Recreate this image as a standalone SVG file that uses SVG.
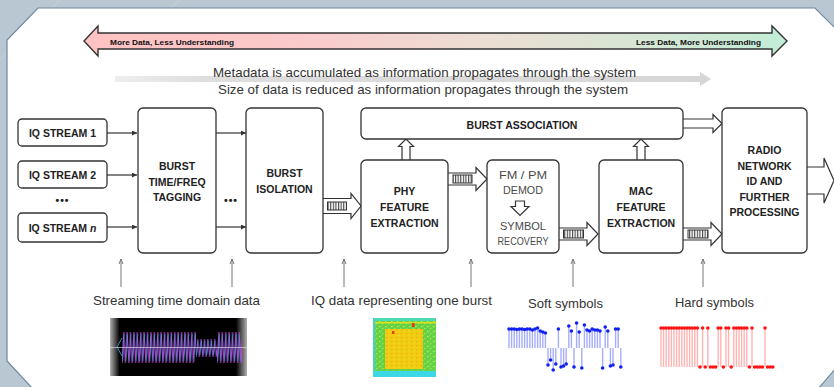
<svg xmlns="http://www.w3.org/2000/svg" width="834" height="387" viewBox="0 0 834 387">
  <defs>
    <style>
      .box { fill: #ffffff; stroke: #333333; stroke-width: 1.3; }
      .lbl { font-family: "Liberation Sans", Arial, sans-serif; font-weight: bold; font-size: 10.5px; fill: #222222; text-anchor: middle; }
      .soft { font-family: "Liberation Sans", Arial, sans-serif; font-size: 11px; fill: #4a4a4a; text-anchor: middle; }
      .cap { font-family: "Liberation Sans", Arial, sans-serif; font-size: 13px; fill: #333333; text-anchor: middle; }
      .tag { font-family: "Liberation Sans", Arial, sans-serif; font-weight: bold; font-size: 8px; fill: #111111; }
      .thin { stroke: #333333; stroke-width: 1.2; fill: none; marker-end: url(#tri); }
      .note { stroke: #777777; stroke-width: 1; fill: none; marker-end: url(#tri-gray); }
      .hollow { fill: #ffffff; stroke: #333333; stroke-width: 1.2; stroke-linejoin: miter; }
      .film { fill: url(#film); stroke: #333333; stroke-width: 1; }
      .sstem { stroke: #a6aefc; stroke-width: 1.4; }
      .sdot { fill: #1020f0; }
      .hstem { stroke: #ffb4b4; stroke-width: 1.4; }
      .hdot { fill: #ff1414; }
    </style>
    <marker id="tri" viewBox="0 0 10 10" refX="10" refY="5" markerWidth="5" markerHeight="5" orient="auto" markerUnits="userSpaceOnUse">
      <path d="M0,0 L10,5 L0,10 Z" fill="#333333"/>
    </marker>
    <marker id="tri-gray" viewBox="0 0 10 10" refX="10" refY="5" markerWidth="5" markerHeight="6" orient="auto" markerUnits="userSpaceOnUse">
      <path d="M0,1 L10,5 L0,9" fill="none" stroke="#777777" stroke-width="2"/>
    </marker>
    <linearGradient id="understanding" x1="84" y1="0" x2="787" y2="0" gradientUnits="userSpaceOnUse">
      <stop offset="0" stop-color="#ffc2c2"/>
      <stop offset="0.3" stop-color="#fbcaca"/>
      <stop offset="0.58" stop-color="#ebdfd3"/>
      <stop offset="1" stop-color="#c2edd6"/>
    </linearGradient>
    <linearGradient id="flow" x1="115" y1="0" x2="710" y2="0" gradientUnits="userSpaceOnUse">
      <stop offset="0" stop-color="#eeeeee"/>
      <stop offset="0.15" stop-color="#dedede"/>
      <stop offset="1" stop-color="#d6d6d6"/>
    </linearGradient>
    <linearGradient id="scope" x1="0" y1="0" x2="1" y2="0">
      <stop offset="0" stop-color="#b0b0b0"/>
      <stop offset="0.07" stop-color="#000000"/>
      <stop offset="0.92" stop-color="#000000"/>
      <stop offset="1" stop-color="#b0b0b0"/>
    </linearGradient>
    <pattern id="film" width="2.6" height="10" patternUnits="userSpaceOnUse">
      <rect width="2.6" height="10" fill="#ffffff"/>
      <line x1="0.6" y1="0" x2="0.6" y2="10" stroke="#333333" stroke-width="1"/>
    </pattern>
    <pattern id="waveP" x="122" y="331" width="3.4" height="34" patternUnits="userSpaceOnUse">
      <polyline points="0,32 1.7,1 3.4,32" fill="none" stroke="#b444d8" stroke-width="1"/>
      <polyline points="0.6,30 2.3,3" fill="none" stroke="#3a9cc4" stroke-width="0.8"/>
    </pattern>
    <pattern id="waveS" x="196" y="337" width="3.4" height="22" patternUnits="userSpaceOnUse">
      <polyline points="0,20 1.7,2 3.4,20" fill="none" stroke="#9a4ad0" stroke-width="1"/>
      <polyline points="0.6,18 2.3,4" fill="none" stroke="#3a9cc4" stroke-width="0.8"/>
    </pattern>
    <pattern id="speckle" width="6" height="5" patternUnits="userSpaceOnUse">
      <rect width="6" height="5" fill="#62d24a"/>
      <rect x="1" y="1" width="1.5" height="1.2" fill="#c6ea3a"/>
      <rect x="4" y="3" width="1.5" height="1.2" fill="#a8e23e"/>
      <rect x="3" y="0" width="1" height="1" fill="#8ede40"/>
    </pattern>
    <pattern id="hot" width="5" height="4" patternUnits="userSpaceOnUse">
      <rect width="5" height="4" fill="#f2cc10"/>
      <rect x="1" y="1" width="1.4" height="1.2" fill="#f2a818"/>
      <rect x="3.4" y="2.6" width="1.2" height="1" fill="#e6e428"/>
    </pattern>
  </defs>

  <!-- backdrop and chamfered panel -->
  <rect width="834" height="387" fill="#b8c7d1"/>
  <path d="M0,60 L60,0 M180,0 L90,70 M760,387 L834,330" stroke="#c6d3db" stroke-width="1" fill="none"/>
  <polygon points="38,8 815,8 836,29 836,368 818,389 33,389 7,361 7,40" fill="#ffffff" stroke="#6e87a0" stroke-width="1.2"/>

  <!-- data / understanding scale -->
  <g id="scale">
    <path d="M84,41 L98,26 L98,33 L772,33 L772,26 L787,41 L772,56 L772,49 L98,49 L98,56 Z" fill="url(#understanding)" stroke="#333333" stroke-width="1.4" stroke-linejoin="miter"/>
    <text class="tag" x="110" y="44.5" textLength="124" lengthAdjust="spacingAndGlyphs">More Data, Less Understanding</text>
    <text class="tag" x="636" y="44.5" textLength="125" lengthAdjust="spacingAndGlyphs">Less Data, More Understanding</text>
  </g>

  <!-- propagation note -->
  <g id="propagation">
    <path d="M115,76 L700,76 L700,72 L711,79 L700,86 L700,82 L115,82 Z" fill="url(#flow)"/>
    <text class="cap" x="424.5" y="76.5" textLength="423" lengthAdjust="spacingAndGlyphs">Metadata is accumulated as information propagates through the system</text>
    <text class="cap" x="423" y="93.5" textLength="410" lengthAdjust="spacingAndGlyphs">Size of data is reduced as information propagates through the system</text>
  </g>

  <!-- connectors -->
  <g id="connectors">
    <line class="thin" x1="107" y1="133" x2="137" y2="133"/>
    <line class="thin" x1="107" y1="175" x2="137" y2="175"/>
    <line class="thin" x1="107" y1="227" x2="137" y2="227"/>
    <line class="thin" x1="216" y1="133" x2="246" y2="133"/>
    <line class="thin" x1="216" y1="227" x2="246" y2="227"/>

    <!-- burst isolation to PHY -->
    <path class="hollow" d="M323,198.5 L351,198.5 L351,193.5 L361,206 L351,218.5 L351,213.5 L323,213.5"/>
    <rect class="film" x="327.5" y="202" width="19" height="8"/>
    <!-- PHY to demod -->
    <path class="hollow" d="M448,173 L476,173 L476,167.5 L487,179 L476,190.5 L476,185 L448,185"/>
    <rect class="film" x="453" y="175" width="19" height="8"/>
    <!-- demod to MAC -->
    <path class="hollow" d="M559,228 L587,228 L587,222.5 L598,234 L587,245.5 L587,240 L559,240"/>
    <rect class="film" x="563.5" y="230" width="20" height="8"/>
    <!-- MAC to radio network -->
    <path class="hollow" d="M683,228 L711,228 L711,222.5 L722,234 L711,245.5 L711,240 L683,240"/>
    <rect class="film" x="688" y="230" width="20" height="8"/>

    <!-- feature extraction up to burst association -->
    <path class="hollow" d="M402,160 L402,146.5 L398.5,146.5 L406,139 L413.5,146.5 L410,146.5 L410,160"/>
    <path class="hollow" d="M637,160 L637,146.5 L633.5,146.5 L641,139 L648.5,146.5 L645,146.5 L645,160"/>
    <!-- burst association to radio network -->
    <path class="hollow" d="M683,119 L713,119 L713,114.5 L722,123.5 L713,132.5 L713,128 L683,128"/>
    <!-- radio network output -->
    <path class="hollow" d="M807,167 L824,167 L824,158 L834,180.5 L824,203 L824,194 L807,194"/>

    <!-- data annotations -->
    <line class="note" x1="121" y1="287" x2="121" y2="259"/>
    <line class="note" x1="232" y1="287" x2="232" y2="259"/>
    <line class="note" x1="344" y1="287" x2="344" y2="259"/>
    <line class="note" x1="471" y1="287" x2="471" y2="259"/>
    <line class="note" x1="573" y1="287" x2="573" y2="259"/>
    <line class="note" x1="703" y1="287" x2="703" y2="259"/>
  </g>

  <!-- input streams -->
  <g id="iq-stream-1">
    <rect class="box" x="18" y="119" width="89" height="27" rx="4"/>
    <text class="lbl" x="62.5" y="136.5">IQ STREAM 1</text>
  </g>
  <g id="iq-stream-2">
    <rect class="box" x="18" y="161" width="89" height="27" rx="4"/>
    <text class="lbl" x="62.5" y="178.5">IQ STREAM 2</text>
  </g>
  <g id="stream-ellipsis">
    <text class="lbl" x="62.5" y="203.5" font-size="12" letter-spacing="1">•••</text>
  </g>
  <g id="iq-stream-n">
    <rect class="box" x="18" y="213" width="89" height="29" rx="4"/>
    <text class="lbl" x="62.5" y="231.5">IQ STREAM <tspan font-style="italic">n</tspan></text>
  </g>

  <g id="burst-tagging">
    <rect class="box" x="138" y="108" width="78" height="145" rx="5"/>
    <text class="lbl" x="177" y="170">BURST</text>
    <text class="lbl" x="177" y="185.5">TIME/FREQ</text>
    <text class="lbl" x="177" y="201">TAGGING</text>
  </g>
  <g id="tag-ellipsis">
    <text class="lbl" x="231" y="203.5" font-size="12" letter-spacing="1">•••</text>
  </g>

  <g id="burst-isolation">
    <rect class="box" x="246" y="108" width="77" height="145" rx="5"/>
    <text class="lbl" x="284.5" y="177">BURST</text>
    <text class="lbl" x="284.5" y="192.5">ISOLATION</text>
  </g>

  <g id="burst-association">
    <rect class="box" x="361" y="108" width="322" height="31" rx="5"/>
    <text class="lbl" x="522" y="129">BURST ASSOCIATION</text>
  </g>

  <g id="phy-feature-extraction">
    <rect class="box" x="361" y="160" width="87" height="93" rx="5"/>
    <text class="lbl" x="404.5" y="195">PHY</text>
    <text class="lbl" x="404.5" y="211">FEATURE</text>
    <text class="lbl" x="404.5" y="226.5">EXTRACTION</text>
  </g>

  <g id="demod-symbol-recovery">
    <rect class="box" x="487" y="160" width="72" height="93" rx="5"/>
    <text class="soft" x="523" y="179" textLength="48" lengthAdjust="spacingAndGlyphs">FM / PM</text>
    <text class="soft" x="523" y="194" textLength="40" lengthAdjust="spacingAndGlyphs">DEMOD</text>
    <path class="hollow" d="M515.5,201 L524.5,201 L524.5,206.5 L529,206.5 L520,215.5 L511,206.5 L515.5,206.5 Z"/>
    <text class="soft" x="523" y="229.5" textLength="46" lengthAdjust="spacingAndGlyphs">SYMBOL</text>
    <text class="soft" x="523" y="245" textLength="51" lengthAdjust="spacingAndGlyphs">RECOVERY</text>
  </g>

  <g id="mac-feature-extraction">
    <rect class="box" x="599" y="160" width="84" height="93" rx="5"/>
    <text class="lbl" x="641" y="195">MAC</text>
    <text class="lbl" x="641" y="211">FEATURE</text>
    <text class="lbl" x="641" y="226.5">EXTRACTION</text>
  </g>

  <g id="radio-network-id">
    <rect class="box" x="722" y="108" width="85" height="145" rx="5"/>
    <text class="lbl" x="764.5" y="154">RADIO</text>
    <text class="lbl" x="764.5" y="169.5">NETWORK</text>
    <text class="lbl" x="764.5" y="185">ID AND</text>
    <text class="lbl" x="764.5" y="200.5">FURTHER</text>
    <text class="lbl" x="764.5" y="216">PROCESSING</text>
  </g>

  <!-- captions -->
  <g id="captions">
    <text class="cap" x="176.5" y="305" textLength="167" lengthAdjust="spacingAndGlyphs">Streaming time domain data</text>
    <text class="cap" x="401.5" y="305" textLength="181" lengthAdjust="spacingAndGlyphs">IQ data representing one burst</text>
    <text class="cap" x="565.5" y="308" textLength="75" lengthAdjust="spacingAndGlyphs">Soft symbols</text>
    <text class="cap" x="714.5" y="307" textLength="79" lengthAdjust="spacingAndGlyphs">Hard symbols</text>
  </g>

  <!-- time domain trace -->
  <g id="time-domain-plot">
    <rect x="110" y="318" width="137" height="58" fill="url(#scope)"/>
    <rect x="122" y="331" width="74" height="34" fill="url(#waveP)"/>
    <rect x="196" y="337" width="21" height="22" fill="url(#waveS)"/>
    <rect x="217" y="331" width="25" height="34" fill="url(#waveP)"/>
    <path d="M122,338 L117,347 L122,356" fill="none" stroke="#3a9cc4" stroke-width="0.9"/>
    <line x1="110" y1="347.5" x2="247" y2="347.5" stroke="#e8e0f0" stroke-width="0.8" opacity="0.8"/>
  </g>

  <!-- burst spectrogram -->
  <g id="spectrogram">
    <rect x="373" y="318" width="63" height="59" fill="url(#speckle)"/>
    <rect x="373" y="318" width="63" height="3" fill="#50d8b0"/>
    <rect x="373" y="322" width="63" height="1.5" fill="#d8e020"/>
    <rect x="373" y="318" width="2" height="59" fill="#48d0c8"/>
    <rect x="385" y="329" width="38" height="40" fill="url(#hot)"/>
    <rect x="412" y="323" width="2.5" height="4" fill="#f03010"/>
    <rect x="392" y="331" width="2.5" height="3" fill="#f04010"/>
    <rect x="373" y="371" width="63" height="6" fill="#3cd8e8"/>
  </g>

  <!-- soft symbol stems -->
  <g id="soft-symbols">
    <g class="sstem">
      <line x1="509" y1="348" x2="509" y2="329"/><line x1="511.6" y1="348" x2="511.6" y2="329"/>
      <line x1="514.2" y1="348" x2="514.2" y2="329"/><line x1="516.8" y1="348" x2="516.8" y2="329.5"/>
      <line x1="519.4" y1="348" x2="519.4" y2="329"/><line x1="522" y1="348" x2="522" y2="329"/>
      <line x1="524.6" y1="348" x2="524.6" y2="329.5"/><line x1="527.2" y1="348" x2="527.2" y2="329"/>
      <line x1="529.8" y1="348" x2="529.8" y2="329"/><line x1="532.4" y1="348" x2="532.4" y2="330"/>
      <line x1="535" y1="348" x2="535" y2="329"/><line x1="537.6" y1="348" x2="537.6" y2="328"/>
      <line x1="540.2" y1="348" x2="540.2" y2="331"/><line x1="542.8" y1="348" x2="542.8" y2="332"/>
      <line x1="545.4" y1="348" x2="545.4" y2="333"/><line x1="548" y1="348" x2="548" y2="365"/>
      <line x1="550.6" y1="348" x2="550.6" y2="360"/><line x1="553.2" y1="348" x2="553.2" y2="370"/>
      <line x1="555.8" y1="348" x2="555.8" y2="364"/><line x1="558.4" y1="348" x2="558.4" y2="329"/>
      <line x1="561" y1="348" x2="561" y2="367"/><line x1="563.6" y1="348" x2="563.6" y2="366"/>
      <line x1="566.2" y1="348" x2="566.2" y2="364"/><line x1="568.8" y1="348" x2="568.8" y2="326"/>
      <line x1="571.4" y1="348" x2="571.4" y2="331"/><line x1="574" y1="348" x2="574" y2="367"/>
      <line x1="576.6" y1="348" x2="576.6" y2="323"/><line x1="579.2" y1="348" x2="579.2" y2="332"/>
      <line x1="581.8" y1="348" x2="581.8" y2="368"/><line x1="584.4" y1="348" x2="584.4" y2="325"/>
      <line x1="587" y1="348" x2="587" y2="330"/><line x1="589.6" y1="348" x2="589.6" y2="331"/>
      <line x1="592.2" y1="348" x2="592.2" y2="329"/><line x1="594.8" y1="348" x2="594.8" y2="330"/>
      <line x1="597.4" y1="348" x2="597.4" y2="330"/><line x1="600" y1="348" x2="600" y2="331"/>
      <line x1="602.6" y1="348" x2="602.6" y2="368"/><line x1="605.2" y1="348" x2="605.2" y2="327"/>
      <line x1="607.8" y1="348" x2="607.8" y2="331"/><line x1="610.4" y1="348" x2="610.4" y2="366"/>
      <line x1="613" y1="348" x2="613" y2="365"/><line x1="615.6" y1="348" x2="615.6" y2="329"/>
      <line x1="618.2" y1="348" x2="618.2" y2="329"/><line x1="620.8" y1="348" x2="620.8" y2="367"/>
    </g>
    <g class="sdot">
      <circle cx="509" cy="329" r="1.8"/><circle cx="511.6" cy="329" r="1.8"/><circle cx="514.2" cy="329" r="1.8"/>
      <circle cx="516.8" cy="329.5" r="1.8"/><circle cx="519.4" cy="329" r="1.8"/><circle cx="522" cy="329" r="1.8"/>
      <circle cx="524.6" cy="329.5" r="1.8"/><circle cx="527.2" cy="329" r="1.8"/><circle cx="529.8" cy="329" r="1.8"/>
      <circle cx="532.4" cy="330" r="1.8"/><circle cx="535" cy="329" r="1.8"/><circle cx="537.6" cy="328" r="1.8"/>
      <circle cx="540.2" cy="331" r="1.8"/><circle cx="542.8" cy="332" r="1.8"/><circle cx="545.4" cy="333" r="1.8"/>
      <circle cx="548" cy="365" r="1.8"/><circle cx="550.6" cy="360" r="1.8"/><circle cx="553.2" cy="370" r="1.8"/>
      <circle cx="555.8" cy="364" r="1.8"/><circle cx="558.4" cy="329" r="1.8"/><circle cx="561" cy="367" r="1.8"/>
      <circle cx="563.6" cy="366" r="1.8"/><circle cx="566.2" cy="364" r="1.8"/><circle cx="568.8" cy="326" r="1.8"/>
      <circle cx="571.4" cy="331" r="1.8"/><circle cx="574" cy="367" r="1.8"/><circle cx="576.6" cy="323" r="1.8"/>
      <circle cx="579.2" cy="332" r="1.8"/><circle cx="581.8" cy="368" r="1.8"/><circle cx="584.4" cy="325" r="1.8"/>
      <circle cx="587" cy="330" r="1.8"/><circle cx="589.6" cy="331" r="1.8"/><circle cx="592.2" cy="329" r="1.8"/>
      <circle cx="594.8" cy="330" r="1.8"/><circle cx="597.4" cy="330" r="1.8"/><circle cx="600" cy="331" r="1.8"/>
      <circle cx="602.6" cy="368" r="1.8"/><circle cx="605.2" cy="327" r="1.8"/><circle cx="607.8" cy="331" r="1.8"/>
      <circle cx="610.4" cy="366" r="1.8"/><circle cx="613" cy="365" r="1.8"/><circle cx="615.6" cy="329" r="1.8"/>
      <circle cx="618.2" cy="329" r="1.8"/><circle cx="620.8" cy="367" r="1.8"/>
    </g>
  </g>

  <!-- hard symbol stems -->
  <g id="hard-symbols">
    <g class="hstem">
      <line x1="661" y1="367" x2="661" y2="328"/><line x1="663.6" y1="367" x2="663.6" y2="328"/>
      <line x1="666.2" y1="367" x2="666.2" y2="328"/><line x1="668.8" y1="367" x2="668.8" y2="328"/>
      <line x1="671.4" y1="367" x2="671.4" y2="328"/><line x1="674" y1="367" x2="674" y2="328"/>
      <line x1="676.6" y1="367" x2="676.6" y2="328"/><line x1="679.2" y1="367" x2="679.2" y2="328"/>
      <line x1="681.8" y1="367" x2="681.8" y2="328"/><line x1="684.4" y1="367" x2="684.4" y2="328"/>
      <line x1="687" y1="367" x2="687" y2="328"/><line x1="689.6" y1="367" x2="689.6" y2="328"/>
      <line x1="692.2" y1="367" x2="692.2" y2="328"/><line x1="694.8" y1="367" x2="694.8" y2="328"/>
      <line x1="697.4" y1="367" x2="697.4" y2="328"/><line x1="702.6" y1="367" x2="702.6" y2="328"/>
      <line x1="707.8" y1="367" x2="707.8" y2="328"/><line x1="718.2" y1="367" x2="718.2" y2="328"/>
      <line x1="720.8" y1="367" x2="720.8" y2="328"/><line x1="726" y1="367" x2="726" y2="328"/>
      <line x1="728.6" y1="367" x2="728.6" y2="328"/><line x1="733.8" y1="367" x2="733.8" y2="328"/>
      <line x1="736.4" y1="367" x2="736.4" y2="328"/><line x1="739" y1="367" x2="739" y2="328"/>
      <line x1="741.6" y1="367" x2="741.6" y2="328"/><line x1="744.2" y1="367" x2="744.2" y2="328"/>
      <line x1="746.8" y1="367" x2="746.8" y2="328"/><line x1="752" y1="367" x2="752" y2="328"/>
      <line x1="765" y1="367" x2="765" y2="328"/>
    </g>
    <g class="hdot">
      <circle cx="661" cy="328" r="1.8"/><circle cx="663.6" cy="328" r="1.8"/><circle cx="666.2" cy="328" r="1.8"/>
      <circle cx="668.8" cy="328" r="1.8"/><circle cx="671.4" cy="328" r="1.8"/><circle cx="674" cy="328" r="1.8"/>
      <circle cx="676.6" cy="328" r="1.8"/><circle cx="679.2" cy="328" r="1.8"/><circle cx="681.8" cy="328" r="1.8"/>
      <circle cx="684.4" cy="328" r="1.8"/><circle cx="687" cy="328" r="1.8"/><circle cx="689.6" cy="328" r="1.8"/>
      <circle cx="692.2" cy="328" r="1.8"/><circle cx="694.8" cy="328" r="1.8"/><circle cx="697.4" cy="328" r="1.8"/>
      <circle cx="700" cy="367" r="1.8"/><circle cx="702.6" cy="328" r="1.8"/><circle cx="705.2" cy="367" r="1.8"/>
      <circle cx="707.8" cy="328" r="1.8"/><circle cx="710.4" cy="367" r="1.8"/><circle cx="713" cy="367" r="1.8"/>
      <circle cx="715.6" cy="367" r="1.8"/><circle cx="718.2" cy="328" r="1.8"/><circle cx="720.8" cy="328" r="1.8"/>
      <circle cx="723.4" cy="367" r="1.8"/><circle cx="726" cy="328" r="1.8"/><circle cx="728.6" cy="328" r="1.8"/>
      <circle cx="731.2" cy="367" r="1.8"/><circle cx="733.8" cy="328" r="1.8"/><circle cx="736.4" cy="328" r="1.8"/>
      <circle cx="739" cy="328" r="1.8"/><circle cx="741.6" cy="328" r="1.8"/><circle cx="744.2" cy="328" r="1.8"/>
      <circle cx="746.8" cy="328" r="1.8"/><circle cx="749.4" cy="367" r="1.8"/><circle cx="752" cy="328" r="1.8"/>
      <circle cx="754.6" cy="367" r="1.8"/><circle cx="757.2" cy="367" r="1.8"/><circle cx="759.8" cy="367" r="1.8"/>
      <circle cx="762.4" cy="367" r="1.8"/><circle cx="765" cy="328" r="1.8"/><circle cx="767.6" cy="367" r="1.8"/>
      <circle cx="770.2" cy="367" r="1.8"/><circle cx="772.8" cy="367" r="1.8"/>
    </g>
  </g>
</svg>
